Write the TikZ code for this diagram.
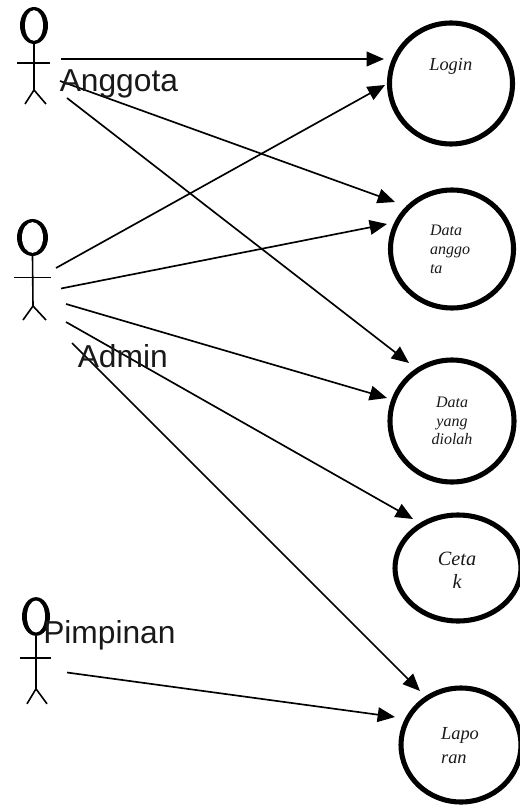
\documentclass[tikz,border=0pt]{standalone}
\usepackage{fontspec}
\setmainfont{Liberation Serif}
\setsansfont{Liberation Sans}
\usetikzlibrary{arrows.meta,shapes.geometric}
\tikzset{
  usecase/.style={draw=black,ellipse,line width=3.8pt,inner sep=0pt,outer sep=0pt},
  actorhead/.style={fill=black,ellipse,inner sep=0pt,outer sep=0pt},
  actorface/.style={fill=white,ellipse,inner sep=0pt,outer sep=0pt},
  actorline/.style={draw=black,line width=1.2pt},
  link/.style={draw=black,line width=1.25pt,-{Triangle[length=13pt,width=11pt]}},
  actorname/.style={font=\sffamily\fontsize{23.8pt}{28pt}\selectfont,anchor=base west,inner sep=0pt,text=black!90},
  uctext/.style={font=\itshape,inner sep=0pt,text=black!90}
}
\begin{document}
\begin{tikzpicture}[x=0.75pt,y=-0.75pt]
\useasboundingbox (0,0) rectangle (520,805);
% actors
\node[actorhead,minimum width=21pt,minimum height=27.75pt] (anggota) at (34,25.5) {};
\node[actorface,minimum width=13.5pt,minimum height=23pt] (anggotaface) at (34,25.5) {};
\node[actorhead,minimum width=23.25pt,minimum height=27.75pt] (admin) at (32.5,237.5) {};
\node[actorface,minimum width=15.75pt,minimum height=23pt] (adminface) at (32.5,237.5) {};
\node[actorhead,minimum width=21pt,minimum height=29pt] (pimpinan) at (36,616.5) {};
\node[actorface,minimum width=13.5pt,minimum height=24pt] (pimpinanface) at (36,616.5) {};
\draw[actorline] (anggota.south) -- +(0,46) coordinate (anggotahip) -- +(-9,60);
\draw[actorline] (anggotahip) -- +(12,14);
\draw[actorline] ([shift={(-17,37.5)}]anggota.center) -- +(33,0);
\draw[actorline] (admin.south) -- ++(0.5,50) coordinate (adminhip) -- +(-10,14);
\draw[actorline] (adminhip) -- +(13,14);
\draw[actorline] ([shift={(-18.5,40)}]admin.center) -- +(37,0);
\draw[actorline] (pimpinan.south) -- +(0,53) coordinate (pimpinanhip) -- +(-9,68);
\draw[actorline] (pimpinanhip) -- +(11,15);
\draw[actorline] ([shift={(-16,41.5)}]pimpinan.center) -- +(31,0);
% use cases
\node[usecase,minimum width=92.25pt,minimum height=90.75pt] (login) at (451,83.5) {};
\node[usecase,minimum width=92.25pt,minimum height=88.5pt] (dataanggota) at (452,249) {};
\node[usecase,minimum width=93pt,minimum height=91.5pt] (diolah) at (452,421) {};
\node[usecase,minimum width=94.5pt,minimum height=79.5pt] (cetak) at (458,568) {};
\node[usecase,minimum width=90pt,minimum height=85.5pt] (laporan) at (461,745) {};
% connectors
\draw[link] ([shift={(27,33.5)}]anggota.center) -- ([shift={(-67,-24.5)}]login.center);
\draw[link] ([shift={(26,55.5)}]anggota.center) -- ([shift={(-57,-47)}]dataanggota.center);
\draw[link] ([shift={(33,72.5)}]anggota.center) -- ([shift={(-43,-58)}]diolah.center);
\draw[link] ([shift={(23.5,30.5)}]admin.center) -- ([shift={(-66,1.5)}]login.center);
\draw[link] ([shift={(28.5,51)}]admin.center) -- ([shift={(-65,-25)}]dataanggota.center);
\draw[link] ([shift={(33.5,66.5)}]admin.center) -- ([shift={(-65,-23)}]diolah.center);
\draw[link] ([shift={(33.5,84.5)}]admin.center) -- ([shift={(-45,-49)}]cetak.center);
\draw[link] ([shift={(39.5,105.5)}]admin.center) -- ([shift={(-41,-54)}]laporan.center);
\draw[link] ([shift={(31,56)}]pimpinan.center) -- ([shift={(-66,-28)}]laporan.center);
% actor names
\node[actorname] (anggotaname) at (59.5,91.7) {Anggota};
\node[actorname] (adminname) at (77.5,367) {Admin};
\node[actorname] (pimpinanname) at (43,643) {Pimpinan};
% use case texts
\node[uctext,font=\itshape\fontsize{13.8pt}{16pt}\selectfont,anchor=base west] (logintext) at (429,71) {Login};
\node[uctext,font=\itshape\fontsize{12pt}{14.2pt}\selectfont,align=left,anchor=center] (dataanggotatext) at (450,249) {Data\\anggo\\ta};
\node[uctext,font=\itshape\fontsize{12pt}{14pt}\selectfont,align=center,anchor=center] (diolahtext) at (452,421) {Data\\yang\\diolah};
\node[uctext,font=\itshape\fontsize{15.2pt}{17.25pt}\selectfont,align=center,anchor=center] (cetaktext) at (457,570) {Ceta\\k};
\node[uctext,font=\itshape\fontsize{13.8pt}{18pt}\selectfont,align=left,anchor=center] (laporantext) at (460,746) {Lapo\\ran};
\end{tikzpicture}
\end{document}
